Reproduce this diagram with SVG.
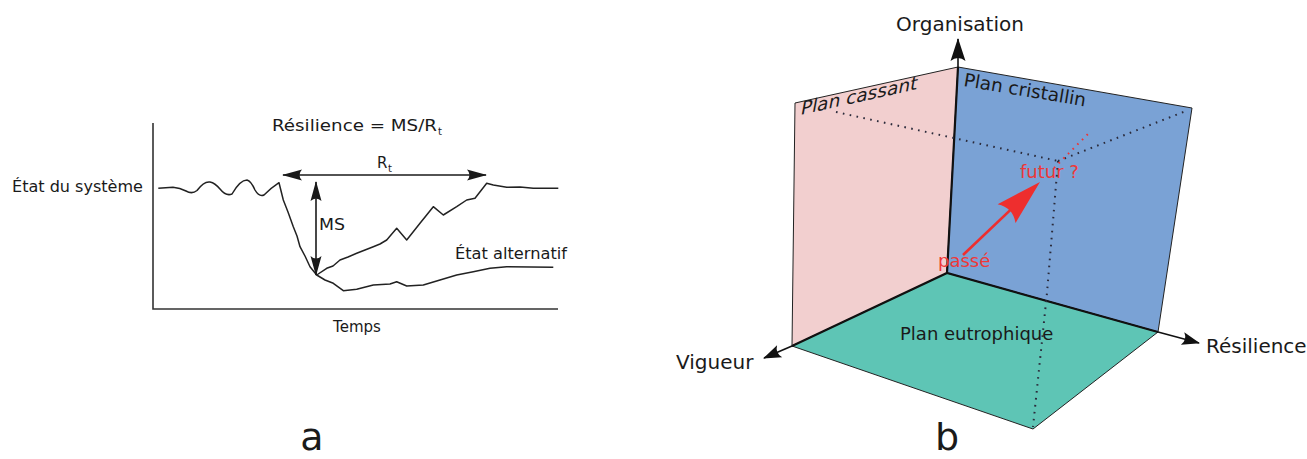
<svg xmlns="http://www.w3.org/2000/svg" width="1307" height="459" viewBox="0 0 1307 459">
<style>
  .t{font-family:"DejaVu Sans","Liberation Sans",sans-serif;fill:#1a1a1a}
  .curve{fill:none;stroke:#222;stroke-width:1.5;stroke-linejoin:round}
  .axis{fill:none;stroke:#333;stroke-width:1.6}
  .arr{fill:none;stroke:#1a1a1a;stroke-width:1.6}
  .edge{stroke:#222;stroke-width:1;stroke-linejoin:round}
  .thick{fill:none;stroke:#111;stroke-width:2.2}
  .dots{fill:none;stroke:#2a2a3a;stroke-width:2;stroke-dasharray:1.6 5.4;stroke-linecap:butt}
  .rdots{fill:none;stroke:#ee3333;stroke-width:2;stroke-dasharray:1.6 5;}
  .red{font-family:"DejaVu Sans","Liberation Sans",sans-serif;fill:#ee3838}
</style>
<defs>
  <marker id="ah" markerUnits="userSpaceOnUse" orient="auto-start-reverse" overflow="visible" markerWidth="1" markerHeight="1" refX="0" refY="0">
    <path d="M1,0 L-19,-5.5 Q-14,0 -19,5.5 Z" fill="#1a1a1a"/>
  </marker>
  <marker id="ah3" markerUnits="userSpaceOnUse" orient="auto-start-reverse" overflow="visible" markerWidth="1" markerHeight="1" refX="0" refY="0">
    <path d="M1,0 L-17,-6.5 Q-12,0 -17,6.5 Z" fill="#111"/>
  </marker>
  <marker id="ahO" markerUnits="userSpaceOnUse" orient="auto" overflow="visible" markerWidth="1" markerHeight="1" refX="0" refY="0">
    <path d="M1,0 L-22,-7.5 Q-16,0 -22,7.5 Z" fill="#111"/>
  </marker>
  <marker id="ahR" markerUnits="userSpaceOnUse" orient="auto" overflow="visible" markerWidth="1" markerHeight="1" refX="0" refY="0">
    <path d="M6,0 L-40,-13 Q-31,0 -40,13 Z" fill="#ee2e2e"/>
  </marker>
</defs>

<!-- Panel a -->
<g id="panel-a">
  <g id="a-axes">
    <path class="axis" d="M153,123 V309 H558"/>
  </g>
  <g id="a-curves">
    <path id="curve-main" class="curve" d="M158.3,188.3 L173,187.3 Q180,188 186,191 Q192,194.5 197,190.5 Q204,181 210,182 Q215,183 220,189 Q226,196.5 232,194 Q240,180 247,180 Q251,181 255,190 Q259,197 264,195 Q271,188 279,182.7 L283.3,200 L288,212 L293.3,226.7 L297,236 L300,246.7 L305,256 L310,266.7 L316.7,275 L326.7,268.3 L333,266 L340,260 L348,257 L356.7,253.3 L365,250 L373.3,246.7 L380,244 L386.7,240 L396.7,228.3 L406.7,240 L420,223.3 L433.3,206.7 L443.3,215 L456.7,206.7 L466.7,200 L475,198.3 L486.7,183.3 L493.3,185 L506.7,187.3 L520,187 L533.3,188.3 L558.3,188.3"/>
    <path id="curve-alt" class="curve" d="M316.7,275 L325,280 L333.3,283.3 L343.3,290.7 L356.7,289.3 L373.3,285 L390,284 L396.7,281.7 L406.7,286 L423.3,285 L440,280 L456.7,275 L473.3,271.7 L490,268.3 L506.7,266.7 L553.3,267.3"/>
  </g>
  <g id="a-connectors">
    <path id="arrow-Rt" class="arr" d="M283,175 H486" marker-start="url(#ah)" marker-end="url(#ah)"/>
    <path id="arrow-MS" class="arr" d="M316,182 V275" marker-start="url(#ah)" marker-end="url(#ah)"/>
  </g>
  <g id="a-labels">
    <text class="t" x="272" y="131" font-size="15" textLength="165" lengthAdjust="spacingAndGlyphs">Résilience = MS/R</text>
    <text class="t" x="438" y="135" font-size="10">t</text>
    <text class="t" x="377" y="168" font-size="15">R</text>
    <text class="t" x="388" y="172" font-size="10">t</text>
    <text class="t" x="319" y="230" font-size="15" textLength="26" lengthAdjust="spacingAndGlyphs">MS</text>
    <text class="t" x="12" y="192" font-size="15.5" textLength="131" lengthAdjust="spacingAndGlyphs">État du système</text>
    <text class="t" x="455" y="259" font-size="15" textLength="112" lengthAdjust="spacingAndGlyphs">État alternatif</text>
    <text class="t" x="357" y="332" font-size="15" text-anchor="middle">Temps</text>
    <text class="t" x="312" y="450" font-size="38" text-anchor="middle">a</text>
  </g>
</g>

<!-- Panel b -->
<g id="panel-b">
  <g id="plane-cassant">
    <polygon class="edge" points="795,103 958,67 947,273 792,346" fill="#f2cfcf"/>
  </g>
  <g id="plane-cristallin">
    <polygon class="edge" points="958,67 1192,108 1158,332 947,273" fill="#7aa2d5"/>
  </g>
  <g id="plane-eutrophique">
    <polygon class="edge" points="947,273 1158,332 1033,429 792,346" fill="#5ec5b5"/>
  </g>
  <g id="b-edges">
    <path class="thick" d="M958,67 L947,273 M792,346 L947,273 L1158,332"/>
  </g>
  <g id="b-dotted">
    <path class="dots" d="M836,112 L1058,161"/>
    <path class="dots" d="M1058,161 L1186,111"/>
    <path class="dots" d="M1058,161 L1047,293 L1033,427"/>
    <path class="rdots" d="M1054,168 L1091,131"/>
  </g>
  <g id="b-connectors">
    <path id="axis-organisation" class="thick" style="stroke-width:1.6" d="M958,67 V39" marker-end="url(#ahO)"/>
    <path id="axis-vigueur" class="thick" style="stroke-width:1.6" d="M792,346 L764,358" marker-end="url(#ah3)"/>
    <path id="axis-resilience" class="thick" style="stroke-width:1.6" d="M1158,332 L1199,343" marker-end="url(#ah3)"/>
    <path id="arrow-trajectory" fill="none" stroke="#ee2e2e" stroke-width="2.6" d="M963,255 L1035.6,186.1" marker-end="url(#ahR)"/>
  </g>
  <g id="b-labels">
    <text class="t" x="960" y="31" font-size="20" text-anchor="middle">Organisation</text>
    <text class="t" x="676" y="369" font-size="20">Vigueur</text>
    <text class="t" x="1206" y="353" font-size="20">Résilience</text>
    <text class="t" x="900" y="340" font-size="18">Plan eutrophique</text>
    <text class="t" font-size="19" transform="matrix(0.976,-0.216,-0.18,0.984,800,115)">Plan cassant</text>
    <text class="t" font-size="18.5" transform="translate(963,86) rotate(9.5)">Plan cristallin</text>
    <text class="red" x="938" y="267" font-size="18">passé</text>
    <text class="red" x="1020" y="178" font-size="18">futur ?</text>
    <text class="t" x="947" y="450" font-size="38" text-anchor="middle">b</text>
  </g>
</g>
</svg>
